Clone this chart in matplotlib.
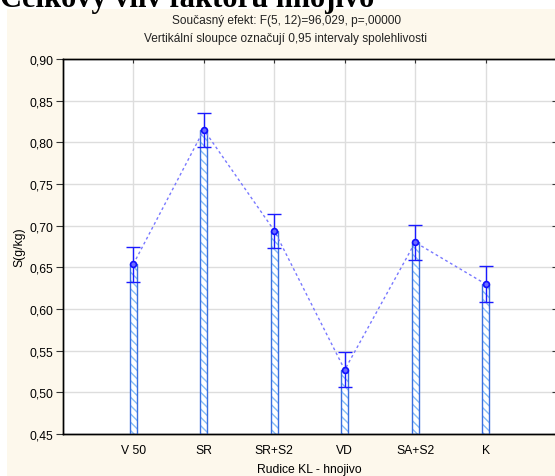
import numpy as np
import matplotlib
matplotlib.use("Agg")
import matplotlib.pyplot as plt
from matplotlib.patches import Rectangle
from matplotlib.ticker import FuncFormatter, MultipleLocator

plt.rcParams['font.family'] = ['Liberation Sans', 'DejaVu Sans']

# průměry a 0,95 intervaly spolehlivosti
hnojivo = ['V 50', 'SR', 'SR+S2', 'VD', 'SA+S2', 'K']
prumer = [0.654, 0.815, 0.694, 0.527, 0.680, 0.630]
horni = [0.674, 0.835, 0.714, 0.548, 0.701, 0.652]
dolni = [0.633, 0.794, 0.673, 0.506, 0.659, 0.609]

y_min, y_max = 0.45, 0.90

x = np.arange(len(hnojivo))
prumer = np.array(prumer)
err = np.vstack([prumer - np.array(dolni), np.array(horni) - prumer])

fig = plt.figure(figsize=(5.55, 4.77), dpi=100)
fig.patch.set_facecolor('white')

# krémový podklad grafu
fig.patches.append(Rectangle((7 / 555, 0), 1, 1 - 10 / 477, transform=fig.transFigure,
                             facecolor='#fdf8ec', edgecolor='none', zorder=-5))

fig.text(0.0, 1 - 7 / 477, 'Celkový vliv faktoru hnojivo', family='Liberation Serif',
         fontweight='bold', fontsize=22, ha='left', va='baseline', color='black')
fig.text(286 / 555, 1 - 21 / 477, 'Současný efekt: F(5, 12)=96,029, p=,00000',
         fontsize=8.6, ha='center', va='center', color='#222222')
fig.text(286 / 555, 1 - 39 / 477, 'Vertikální sloupce označují 0,95 intervaly spolehlivosti',
         fontsize=8.6, ha='center', va='center', color='#222222')

ax = fig.add_axes([63 / 555, 1 - 435 / 477, (556 - 63) / 555, 375 / 477])
ax.set_facecolor('white')

w = 0.1
# šrafované sloupce
ax.bar(x, prumer - y_min, bottom=y_min, width=w, facecolor='white',
       edgecolor='#86bdf7', hatch='\\\\\\\\', linewidth=0, zorder=2)
ax.bar(x, prumer - y_min, bottom=y_min, width=w, facecolor='none',
       edgecolor='#3a6ee0', linewidth=1.0, zorder=3)

# spojnice průměrů
ax.plot(x, prumer, linestyle=(0, (2, 2)), color='#7878ff', linewidth=1.0, zorder=4)
ax.errorbar(x, prumer, yerr=err, fmt='none', ecolor='#1a1aff', elinewidth=1.0,
            capsize=5, capthick=1.0, zorder=5)
ax.plot(x, prumer, 'o', markersize=4.2, markerfacecolor='#6a6aff',
        markeredgecolor='#1010ff', markeredgewidth=1.2, linestyle='none', zorder=6)

ax.set_xlim(-1, len(hnojivo))
ax.set_ylim(y_min, y_max)
ax.set_xticks(x)
ax.set_xticklabels(hnojivo, fontsize=8.7)
ax.yaxis.set_major_locator(MultipleLocator(0.05))
ax.yaxis.set_major_formatter(FuncFormatter(lambda v, p: f'{v:.2f}'.replace('.', ',')))
ax.tick_params(axis='y', labelsize=8.7, direction='out', length=5, pad=2, color='#333333')
ax.tick_params(axis='x', direction='in', length=3, top=True, pad=7, color='#333333')
ax.grid(True, color='#dddddd', linewidth=1.0, zorder=0)
ax.set_axisbelow(True)

# krátké značky na pravé ose
ax2 = ax.twinx()
ax2.set_ylim(y_min, y_max)
ax2.yaxis.set_major_locator(MultipleLocator(0.05))
ax2.tick_params(axis='y', direction='in', length=3, labelright=False, color='#333333')

for a in (ax, ax2):
    for s in a.spines.values():
        s.set_color('black')
        s.set_linewidth(1.0)

ax.set_ylabel('S(g/kg)', fontsize=8.7, labelpad=3)
ax.set_xlabel('Rudice KL - hnojivo', fontsize=8.7, labelpad=5)

fig.savefig('out.png', dpi=100, facecolor=fig.get_facecolor())
